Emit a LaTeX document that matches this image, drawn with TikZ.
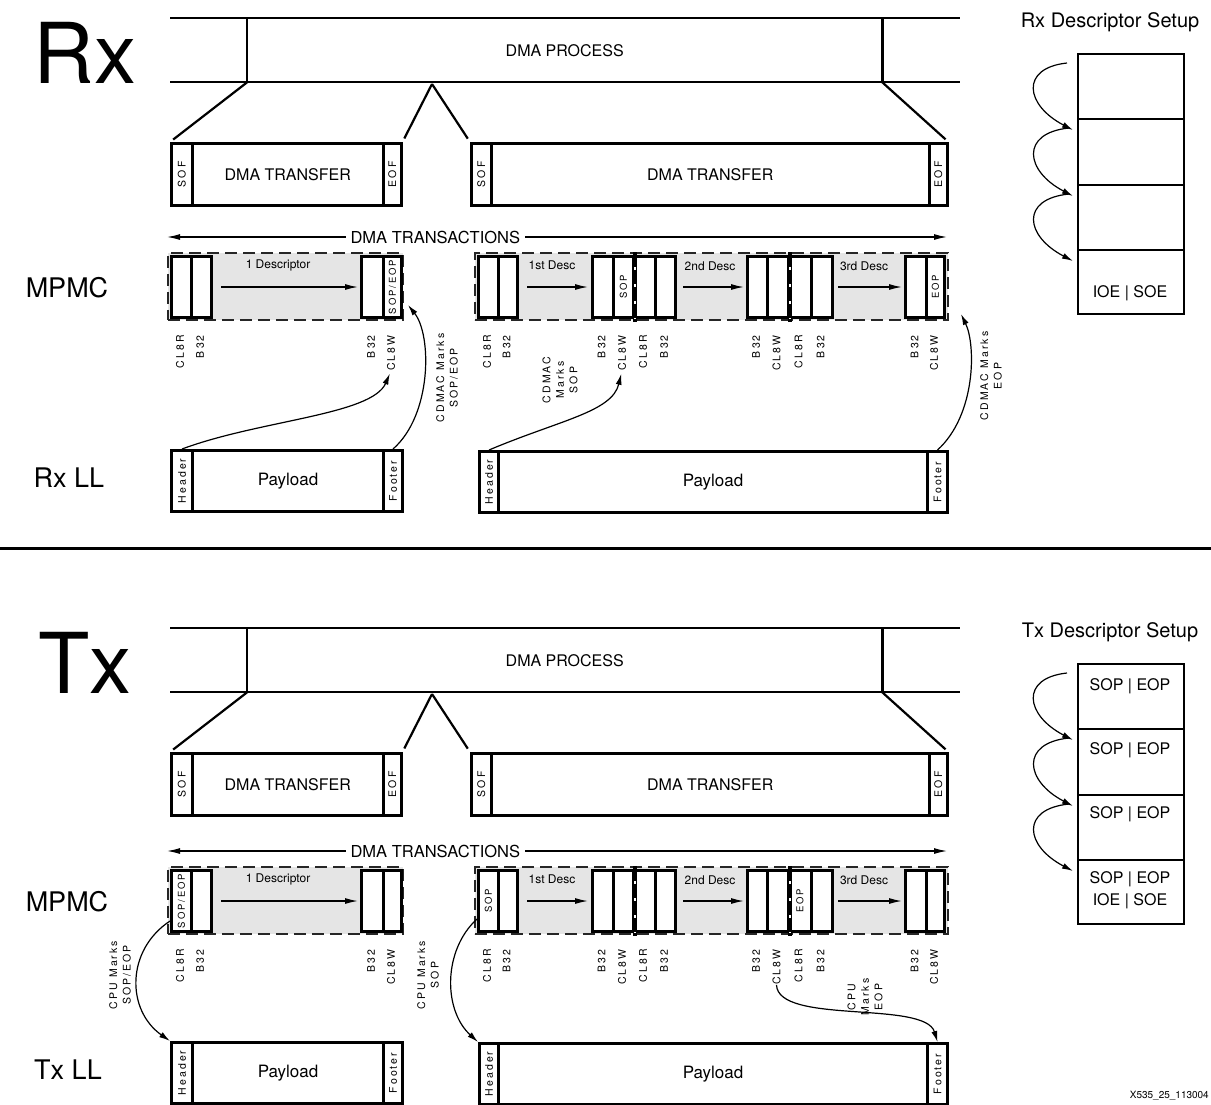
\documentclass[tikz,border=0pt]{standalone}
\usepackage{fontspec}
\setmainfont{TeX Gyre Heros}
\newfontfamily\spcfont[LetterSpace=20]{TeX Gyre Heros}
\usetikzlibrary{arrows.meta}
\tikzset{
  fs/.style={font=\fontsize{#1}{#1}\selectfont},
  cell/.style={draw, line width=3pt, fill=white, inner sep=0pt},
  xcell/.style={draw, line width=2.5pt, fill=white, inner sep=0pt, fs=16},
  pcell/.style={draw, line width=3pt, fill=white, inner sep=0pt, fs=17},
  scell/.style={draw, line width=2pt, fill=white, inner sep=0pt},
  dbox/.style={draw=black!85, line width=1.8pt, dash pattern=on 12pt off 6pt, fill=black!10, inner sep=0pt},
  vlab/.style={rotate=90, inner sep=0pt, font=\spcfont\fontsize{10.5}{13.5}\selectfont},
  vlabs/.style={rotate=90, inner sep=0pt, font=\spcfont\fontsize{9.5}{12}\selectfont},
  pline/.style={line width=2.2pt},
  darr/.style={line width=1.3pt, -{Latex[length=13pt,width=6pt]}},
  tarr/.style={line width=1.2pt, {Latex[length=13pt,width=6pt]}-{Latex[length=13pt,width=6pt]}},
  carr/.style={line width=1.2pt, -{Latex[length=11pt,width=6pt]}},
  sepline/.style={line width=4pt},
  sepdots/.style={white, line width=1.6pt, dash pattern=on 3pt off 14pt, dash phase=5pt},
}
\newcommand\mkbox[7][cell]{\node[#1, anchor=north west, minimum width={(#5-#3)*1pt}, minimum height={(#6-#4)*1pt}] (#2) at (#3,#4) {#7};}
\newcommand\procsec[4]{%
\begin{scope}[shift={(0,#2)}]
 \coordinate (#1ua) at (170,18); \coordinate (#1ub) at (960,18);
 \coordinate (#1da) at (170,82); \coordinate (#1db) at (960,82);
 \draw[pline] (#1ua) -- (#1ub);
 \draw[pline] (#1da) -- (#1db);
 \node[anchor=north west, minimum width=635pt, minimum height=64pt, inner sep=0pt, fs=16] (#1proc) at (247,18) {DMA PROCESS};
 \draw[pline] (#1proc.north west) -- (#1proc.south west);
 \draw[pline] (#1proc.north east) -- (#1proc.south east);
 \mkbox[xcell]{#1sofA}{170}{142}{191}{204}{}
 \mkbox[xcell]{#1tA}{191}{142}{382}{204}{DMA TRANSFER}
 \mkbox[xcell]{#1eofA}{382}{142}{400}{204}{}
 \mkbox[xcell]{#1sofB}{470}{142}{490}{204}{}
 \mkbox[xcell]{#1tB}{490}{142}{928}{204}{DMA TRANSFER}
 \mkbox[xcell]{#1eofB}{928}{142}{946}{204}{}
 \node[vlab] (#1sofAt) at (#1sofA) {SOF};
 \node[vlab] (#1eofAt) at (#1eofA) {EOF};
 \node[vlab] (#1sofBt) at (#1sofB) {SOF};
 \node[vlab] (#1eofBt) at (#1eofB) {EOF};
 \coordinate (#1v) at (432,84);
 \draw[pline, shorten >=4pt] (#1proc.south west) -- (#1sofA.north west);
 \draw[pline, shorten >=4pt] (#1v) -- (#1eofA.north east);
 \draw[pline, shorten >=4pt] (#1v) -- (#1sofB.north west);
 \draw[pline, shorten >=4pt] (#1proc.south east) -- (#1eofB.north east);
\end{scope}
\begin{scope}[shift={(0,#3)}]
 \coordinate (#1tl) at (167,237); \coordinate (#1tr) at (947,237);
 \draw[tarr] (#1tl) -- (#1tr) node[pos=0.344, fill=white, inner xsep=5pt, inner ysep=1pt, fs=16.5] (#1tt) {DMA TRANSACTIONS};
 \mkbox[dbox]{#1dA}{167}{252}{402}{319}{}
 \mkbox[dbox]{#1dB}{474}{252}{947}{319}{}
 \foreach \n/\xa/\xb/\t in {a1/170/190/CL8R, a2/190/210/B32, a3/360/382/B32, a4/382/400/CL8W, b1/477/497/CL8R, b2/497/516/B32, b3/591/612/B32, b4/612/632/CL8W, b5/632/654/CL8R, b6/654/674/B32, b7/746/766/B32, b8/766/787/CL8W, b9/787/810/CL8R, b10/810/831/B32, b11/904/925/B32, b12/925/943/CL8W}{
   \mkbox[cell]{#1\n}{\xa}{255}{\xb}{316}{}
   \node[vlab, anchor=east] (#1l\n) at ({(\xa+\xb)/2},335) {\t};
 }
 \draw[sepline] ([yshift=3pt]#1b4.north east) -- ([yshift=-3pt]#1b4.south east);
 \draw[sepdots] (#1b4.north east) -- (#1b4.south east);
 \draw[sepline] ([yshift=3pt]#1b8.north east) -- ([yshift=-3pt]#1b8.south east);
 \draw[sepdots] (#1b8.north east) -- (#1b8.south east);
 \draw[darr, shorten <=8pt, shorten >=2pt] (#1a2) -- (#1a3);
 \draw[darr, shorten <=8pt, shorten >=3pt] (#1b2) -- (#1b3);
 \draw[darr, shorten <=6pt, shorten >=2pt] (#1b6) -- (#1b7);
 \draw[darr, shorten <=4pt, shorten >=2pt] (#1b10) -- (#1b11);
 \node[fs=12] (#1dsA) at (278,265) {1 Descriptor};
 \node[fs=12] (#1dsB) at (552,265) {1st Desc};
 \node[fs=12] (#1dsC) at (710,266) {2nd Desc};
 \node[fs=12] (#1dsD) at (864,266) {3rd Desc};
 \node[fs=27] (#1mpmc) at (67,288) {MPMC};
\end{scope}
\begin{scope}[shift={(0,#4)}]
 \mkbox[pcell]{#1hA}{170}{449}{191}{510}{}
 \mkbox[pcell]{#1pA}{191}{449}{382}{510}{Payload}
 \mkbox[pcell]{#1fA}{382}{449}{401}{510}{}
 \mkbox[pcell]{#1hB}{478}{450}{497}{511}{}
 \mkbox[pcell]{#1pB}{497}{450}{926}{511}{Payload}
 \mkbox[pcell]{#1fB}{926}{450}{946}{511}{}
 \node[vlab] (#1hAt) at (#1hA) {Header};
 \node[vlab] (#1fAt) at (#1fA) {Footer};
 \node[vlab] (#1hBt) at (#1hB) {Header};
 \node[vlab] (#1fBt) at (#1fB) {Footer};
\end{scope}
}
\newcommand\descstack[3]{%
\begin{scope}[shift={(0,#2)}]
 \node[fs=20] (#1st) at (1110,22) {#3};
 \mkbox[scell]{#1s1}{1077}{53}{1183}{118}{}
 \mkbox[scell]{#1s2}{1077}{118}{1183}{184}{}
 \mkbox[scell]{#1s3}{1077}{184}{1183}{249}{}
 \mkbox[scell]{#1s4}{1077}{249}{1183}{313}{}
 \coordinate (#1s0) at (1067,63);
 \draw[carr] (#1s0) .. controls (1020,68) and (1025,105) .. ([shift={(-4,12)}]#1s2.north west);
 \draw[carr] ([shift={(-8,10)}]#1s2.north west) .. controls (1020,133) and (1025,171) .. ([shift={(-4,12)}]#1s3.north west);
 \draw[carr] ([shift={(-8,10)}]#1s3.north west) .. controls (1020,199) and (1025,236) .. ([shift={(-4,12)}]#1s4.north west);
\end{scope}
}
\begin{document}
\begin{tikzpicture}[x=1pt,y=-1pt]
\useasboundingbox (0,0) rectangle (1211,1104);
\fill[white] (0,0) rectangle (1211,1104);
\procsec{rx}{0}{0}{0}
\procsec{tx}{610}{614}{592}
% big labels
\node[fs=84] (rxbig) at (85,53) {Rx};
\node[fs=84] (txbig) at (85,663) {Tx};
\node[fs=27] (rxll) at (69,478) {Rx LL};
\node[fs=27] (txll) at (68,1070) {Tx LL};
% separator
\coordinate (sepl) at (0,548); \coordinate (sepr) at (1211,548);
\draw[line width=3pt] (sepl) -- (sepr);
% Rx cell texts
\node[vlabs] (rxa4t) at (rxa4) {SOP/EOP};
\node[vlabs] (rxb4t) at (rxb4) {SOP};
\node[vlabs] (rxb12t) at (rxb12) {EOP};
% Tx cell texts
\node[vlabs] (txa1t) at (txa1) {SOP/EOP};
\node[vlabs] (txb1t) at (txb1) {SOP};
\node[vlabs] (txb9t) at (txb9) {EOP};
% Rx curves
\draw[carr, shorten >=3pt] (rxhA.north) .. controls (260,420) and (372,415) .. (rxla4.west);
\draw[carr] (rxfA.north) .. controls (432,415) and (432,335) .. ([shift={(5,-14)}]rxa4.south east);
\node[vlab, align=center] (rxcm1) at (447,378) {CDMAC Marks\\SOP/EOP};
\draw[carr, shorten >=3pt] (rxhB.north) .. controls (560,420) and (612,412) .. (rxlb4.west);
\node[vlab, align=center] (rxcm2) at (560,380) {CDMAC\\Marks\\SOP};
\draw[carr] (rxfB.north) .. controls (976,415) and (976,345) .. ([shift={(15,-5)}]rxb12.south east);
\node[vlab, align=center] (rxcm3) at (991,376) {CDMAC Marks\\EOP};
% Tx curves
\draw[carr] ([yshift=-20pt]txa1.west) .. controls (126,950) and (126,1010) .. (txhA.north west);
\node[vlab, align=center] (txcm1) at (120,975) {CPU Marks\\SOP/EOP};
\draw[carr] ([yshift=-18pt]txb1.west) .. controls (443,950) and (443,1010) .. (txhB.north west);
\node[vlab, align=center] (txcm2) at (428,975) {CPU Marks\\SOP};
\draw[carr] (txlb8.west) .. controls (778,1025) and (925,1000) .. (txfB.north);
\node[vlab, align=center] (txcm3) at (865,997) {CPU\\Marks\\EOP};
% descriptor setups
\descstack{rx}{0}{Rx Descriptor Setup}
\descstack{tx}{610}{Tx Descriptor Setup}
\node[fs=16] (rxs4t) at (1130,293) {IOE | SOE};
\node[fs=16] (txs1t) at (1130,686) {SOP | EOP};
\node[fs=16] (txs2t) at (1130,750) {SOP | EOP};
\node[fs=16] (txs3t) at (1130,814) {SOP | EOP};
\node[fs=16, align=center] (txs4t) at (1130,890) {SOP | EOP\\[6pt]IOE | SOE};
% watermark
\node[fs=10, anchor=east, inner sep=0pt] (wm) at (1209,1096) {X535\_25\_113004};
\end{tikzpicture}
\end{document}
